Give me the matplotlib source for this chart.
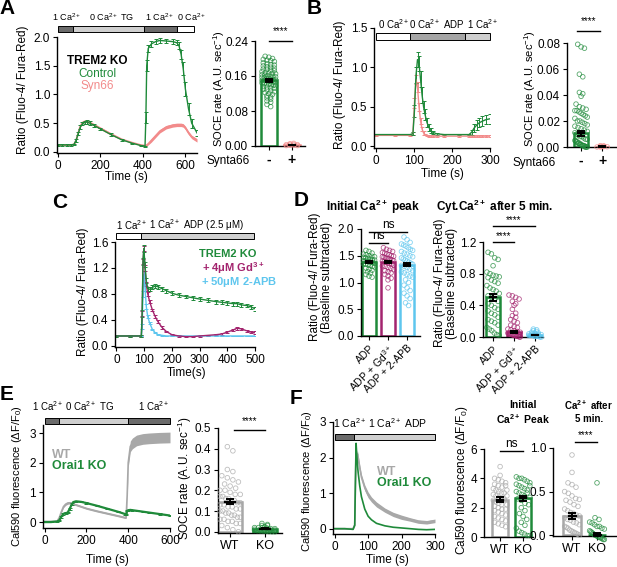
import numpy as np
import matplotlib
matplotlib.use('Agg')
import matplotlib.pyplot as plt
from matplotlib.patches import Rectangle
from matplotlib.ticker import FormatStrFormatter

# ---------------- data ----------------
# A: TREM2 KO, TG protocol
a_t = [0, 20, 40, 60, 75, 85, 95, 105, 115, 125, 135, 150, 170, 200, 250, 300, 350, 390, 410, 414,
       418, 425, 440, 460, 480, 510, 540, 560, 570, 580, 590, 600, 615, 630, 655]
a_ctrl = [0.12, 0.12, 0.12, 0.12, 0.13, 0.20, 0.32, 0.43, 0.49, 0.51, 0.52, 0.50, 0.46, 0.40, 0.30,
          0.21, 0.15, 0.11, 0.10, 0.60, 1.50, 1.80, 1.88, 1.92, 1.94, 1.93, 1.92, 1.90, 1.85, 1.70,
          1.45, 1.10, 0.75, 0.50, 0.33]
a_ctrl_err = [0.01, 0.01, 0.01, 0.01, 0.01, 0.02, 0.03, 0.03, 0.03, 0.03, 0.03, 0.03, 0.02, 0.02, 0.02,
              0.02, 0.01, 0.01, 0.01, 0.10, 0.10, 0.06, 0.05, 0.04, 0.04, 0.04, 0.04, 0.04, 0.06, 0.08,
              0.12, 0.12, 0.10, 0.08, 0.05]
a_syn = [0.12, 0.12, 0.12, 0.12, 0.13, 0.20, 0.33, 0.45, 0.51, 0.53, 0.53, 0.51, 0.47, 0.41, 0.31,
         0.22, 0.16, 0.12, 0.11, 0.11, 0.12, 0.14, 0.20, 0.28, 0.36, 0.43, 0.46, 0.47, 0.47, 0.47,
         0.46, 0.42, 0.33, 0.26, 0.20]
a_syn_err = [0.01, 0.01, 0.01, 0.01, 0.01, 0.02, 0.02, 0.02, 0.02, 0.02, 0.02, 0.02, 0.02, 0.02, 0.02,
             0.01, 0.01, 0.01, 0.01, 0.01, 0.02, 0.02, 0.03, 0.03, 0.03, 0.03, 0.03, 0.03, 0.03, 0.03,
             0.03, 0.03, 0.03, 0.03, 0.03]
a_prot = [0, 71, 403, 561, 640]
a_prot_lbl = ['1 Ca$^{2+}$', '0 Ca$^{2+}$ TG', '1 Ca$^{2+}$', '0 Ca$^{2+}$']
a_prot_lbl_t = [42, 255, 481, 631]

a_soce_ctrl = [0.205, 0.203, 0.2, 0.198, 0.196, 0.195, 0.193, 0.19, 0.188, 0.186, 0.185, 0.183, 0.181,
               0.18, 0.178, 0.176, 0.175, 0.173, 0.172, 0.17, 0.168, 0.167, 0.166, 0.165, 0.163, 0.162,
               0.161, 0.16, 0.159, 0.158, 0.157, 0.156, 0.155, 0.154, 0.153, 0.152, 0.151, 0.15, 0.15,
               0.149, 0.148, 0.147, 0.146, 0.145, 0.144, 0.143, 0.142, 0.141, 0.14, 0.139, 0.138, 0.136,
               0.135, 0.133, 0.132, 0.13, 0.128, 0.126, 0.124, 0.122, 0.12, 0.118, 0.115, 0.112, 0.11,
               0.107, 0.103, 0.1, 0.095, 0.09]
a_soce_syn = [0.001, 0.002, 0.003, 0.004, 0.005, 0.006, 0.002, 0.004, 0.003, 0.001]
a_soce_mean = [0.15, 0.002]
a_soce_sem = [0.003, 0.0008]

# B: ADP in 0 Ca
b_t = [0, 50, 90, 98, 102, 106, 110, 114, 118, 122, 126, 130, 135, 140, 145, 150, 160, 180, 220, 245,
       252, 258, 265, 272, 280, 290, 300]
b_ctrl = [0.15, 0.15, 0.15, 0.16, 0.45, 0.90, 1.10, 1.05, 0.85, 0.65, 0.50, 0.40, 0.30, 0.24, 0.20,
          0.18, 0.16, 0.15, 0.15, 0.15, 0.18, 0.23, 0.27, 0.30, 0.32, 0.34, 0.35]
b_ctrl_err = [0.01, 0.01, 0.01, 0.02, 0.08, 0.10, 0.10, 0.10, 0.10, 0.10, 0.08, 0.07, 0.06, 0.05, 0.03,
              0.02, 0.01, 0.01, 0.01, 0.01, 0.03, 0.05, 0.06, 0.06, 0.06, 0.06, 0.06]
b_syn = [0.14, 0.14, 0.14, 0.16, 0.55, 0.85, 0.75, 0.50, 0.32, 0.22, 0.17, 0.15, 0.14, 0.13, 0.13,
         0.13, 0.13, 0.13, 0.13, 0.13, 0.13, 0.13, 0.13, 0.13, 0.13, 0.13, 0.13]
b_syn_err = [0.005, 0.005, 0.005, 0.02, 0.06, 0.06, 0.06, 0.05, 0.04, 0.03, 0.02, 0.01, 0.01, 0.01, 0.01,
             0.01, 0.01, 0.01, 0.01, 0.01, 0.01, 0.01, 0.01, 0.01, 0.01, 0.01, 0.01]
b_prot = [0, 90, 235, 300]
b_prot_lbl = ['0 Ca$^{2+}$', '0 Ca$^{2+}$ ADP', '1 Ca$^{2+}$']
b_prot_lbl_t = [47, 161, 282]

b_soce_ctrl = [0.079, 0.077, 0.076, 0.056, 0.054, 0.042, 0.041, 0.039, 0.033, 0.031, 0.03, 0.029, 0.028,
               0.028, 0.027, 0.026, 0.025, 0.024, 0.023, 0.022, 0.02, 0.02, 0.019, 0.018, 0.017, 0.016,
               0.015, 0.014, 0.013, 0.012, 0.011, 0.01, 0.009, 0.008, 0.008, 0.007, 0.006, 0.006, 0.005,
               0.005, 0.004, 0.004, 0.003, 0.003, 0.003, 0.002, 0.002, 0.002, 0.001, 0.001, 0.001, 0.001,
               0.0, 0.0, 0.0, 0.0]
b_soce_syn = [0.0, 0.0005, 0.001, 0.0, 0.0003, 0.0008, 0.0002, 0.0006]
b_soce_mean = [0.0105, 0.0003]
b_soce_sem = [0.0018, 0.0001]

# C: ADP in 1 Ca, inhibitors
c_t = [0, 50, 90, 93, 96, 99, 103, 108, 113, 120, 130, 140, 150, 165, 180, 200, 225, 250, 275, 300,
       330, 360, 380, 400, 420, 435, 450, 470, 485, 500]
c_trem = [0.15, 0.15, 0.15, 0.50, 1.30, 1.50, 1.25, 1.00, 0.88, 0.87, 0.90, 0.92, 0.91, 0.88, 0.85,
          0.81, 0.78, 0.76, 0.74, 0.72, 0.70, 0.68, 0.67, 0.66, 0.65, 0.65, 0.63, 0.62, 0.60, 0.57]
c_trem_err = [0.01, 0.01, 0.01, 0.05, 0.05, 0.05, 0.04, 0.04, 0.03, 0.03, 0.03, 0.03, 0.03, 0.03, 0.03,
              0.03, 0.03, 0.03, 0.03, 0.03, 0.03, 0.03, 0.03, 0.03, 0.03, 0.03, 0.03, 0.03, 0.03, 0.03]
c_gd = [0.15, 0.15, 0.15, 0.50, 1.30, 1.50, 1.20, 0.95, 0.80, 0.68, 0.55, 0.45, 0.37, 0.28, 0.22,
        0.17, 0.15, 0.14, 0.14, 0.15, 0.16, 0.17, 0.18, 0.21, 0.24, 0.27, 0.26, 0.23, 0.21, 0.20]
c_gd_err = [0.01, 0.01, 0.01, 0.04, 0.04, 0.04, 0.04, 0.03, 0.03, 0.02, 0.02, 0.02, 0.02, 0.02, 0.01,
            0.01, 0.01, 0.01, 0.01, 0.01, 0.01, 0.01, 0.02, 0.02, 0.02, 0.02, 0.02, 0.02, 0.02, 0.02]
c_apb = [0.15, 0.15, 0.15, 0.30, 0.80, 1.10, 0.90, 0.60, 0.45, 0.35, 0.25, 0.20, 0.17, 0.16, 0.15,
         0.15, 0.15, 0.15, 0.15, 0.15, 0.15, 0.15, 0.15, 0.15, 0.15, 0.15, 0.15, 0.15, 0.15, 0.15]
c_apb_err = [0.005, 0.005, 0.005, 0.04, 0.05, 0.05, 0.05, 0.04, 0.03, 0.02, 0.01, 0.01, 0.005, 0.005, 0.005,
             0.005, 0.005, 0.005, 0.005, 0.005, 0.005, 0.005, 0.005, 0.005, 0.005, 0.005, 0.005, 0.005,
             0.005, 0.005]
c_prot = [0, 90, 495]
c_prot_lbl = ['1 Ca$^{2+}$', '1 Ca$^{2+}$ ADP (2.5 $\\mu$M)']
c_prot_lbl_t = [54, 289]

# D: quantification
d_cats = ['ADP', 'ADP + Gd$^{3+}$', 'ADP + 2-APB']
d_peak_adp = [1.6, 1.58, 1.55, 1.53, 1.52, 1.5, 1.49, 1.48, 1.47, 1.46, 1.45, 1.44, 1.43, 1.42, 1.41, 1.4,
              1.4, 1.39, 1.38, 1.37, 1.36, 1.35, 1.34, 1.33, 1.32, 1.3, 1.29, 1.27, 1.25, 1.23, 1.2, 1.18,
              1.15, 1.12, 1.1]
d_peak_gd = [1.65, 1.62, 1.6, 1.58, 1.56, 1.55, 1.53, 1.52, 1.5, 1.49, 1.48, 1.47, 1.46, 1.45, 1.44, 1.43,
             1.42, 1.41, 1.4, 1.39, 1.38, 1.37, 1.36, 1.35, 1.33, 1.31, 1.3, 1.28, 1.26, 1.24, 1.22, 1.2,
             1.18, 1.15, 1.12, 1.08, 1.05, 0.9]
d_peak_apb = [1.85, 1.8, 1.75, 1.72, 1.7, 1.68, 1.65, 1.62, 1.6, 1.58, 1.55, 1.53, 1.5, 1.48, 1.46, 1.44,
              1.42, 1.4, 1.38, 1.36, 1.34, 1.32, 1.3, 1.28, 1.25, 1.22, 1.2, 1.18, 1.15, 1.12, 1.1, 1.05,
              1.0, 0.95, 0.9, 0.85, 0.8, 0.75, 0.7, 0.62, 0.57]
d_peak_mean = [1.38, 1.39, 1.33]
d_peak_sem = [0.02, 0.02, 0.03]
d_late_adp = [1.07, 1.05, 1.0, 0.98, 0.9, 0.82, 0.8, 0.78, 0.77, 0.76, 0.75, 0.72, 0.7, 0.68, 0.65, 0.62,
              0.6, 0.58, 0.55, 0.52, 0.5, 0.48, 0.45, 0.42, 0.4, 0.37, 0.35, 0.33, 0.3, 0.28, 0.25, 0.22,
              0.2, 0.18, 0.15, 0.12, 0.1, 0.08, 0.05, 0.03, 0.02]
d_late_gd = [0.53, 0.52, 0.5, 0.48, 0.45, 0.42, 0.4, 0.35, 0.3, 0.27, 0.25, 0.22, 0.2, 0.18, 0.15, 0.13,
             0.12, 0.1, 0.09, 0.08, 0.07, 0.06, 0.05, 0.05, 0.04, 0.04, 0.03, 0.03, 0.02, 0.02, 0.02, 0.01,
             0.01, 0.01, 0.0, 0.0]
d_late_apb = [0.1, 0.09, 0.08, 0.07, 0.06, 0.05, 0.05, 0.04, 0.04, 0.03, 0.03, 0.03, 0.02, 0.02, 0.02,
              0.02, 0.01, 0.01, 0.01, 0.01, 0.0, 0.0]
d_late_mean = [0.50, 0.06, 0.025]
d_late_sem = [0.04, 0.015, 0.005]

# E: Orai1 KO, TG protocol
e_t = [0, 30, 60, 70, 80, 90, 100, 110, 120, 130, 140, 150, 175, 200, 250, 300, 350, 385, 390, 395,
       400, 410, 420, 440, 470, 500, 550, 600]
e_wt = [0.02, 0.02, 0.03, 0.15, 0.35, 0.52, 0.60, 0.64, 0.65, 0.63, 0.60, 0.58, 0.52, 0.46, 0.37,
        0.29, 0.21, 0.15, 0.15, 0.90, 2.00, 2.55, 2.65, 2.75, 2.80, 2.82, 2.84, 2.85]
e_wt_err = [0.02, 0.02, 0.02, 0.03, 0.04, 0.04, 0.04, 0.04, 0.04, 0.04, 0.03, 0.03, 0.03, 0.03, 0.03,
            0.03, 0.03, 0.03, 0.03, 0.10, 0.15, 0.18, 0.18, 0.18, 0.18, 0.18, 0.18, 0.18]
e_ko = [0.00, 0.00, 0.02, 0.06, 0.18, 0.28, 0.30, 0.32, 0.45, 0.60, 0.68, 0.70, 0.68, 0.64, 0.55,
        0.45, 0.35, 0.27, 0.25, 0.38, 0.40, 0.41, 0.40, 0.38, 0.35, 0.32, 0.27, 0.22]
e_ko_err = [0.01, 0.01, 0.01, 0.02, 0.03, 0.03, 0.03, 0.03, 0.03, 0.03, 0.02, 0.02, 0.02, 0.02, 0.02,
            0.02, 0.02, 0.02, 0.02, 0.02, 0.02, 0.02, 0.02, 0.02, 0.02, 0.02, 0.02, 0.02]
e_prot = [0, 70, 400, 600]
e_prot_lbl = ['1 Ca$^{2+}$', '0 Ca$^{2+}$ TG', '1 Ca$^{2+}$']
e_prot_lbl_t = [14, 216, 520]
e_soce_wt = [0.41, 0.39, 0.3, 0.29, 0.27, 0.26, 0.25, 0.24, 0.23, 0.22, 0.21, 0.2, 0.2, 0.19, 0.18, 0.18,
             0.17, 0.17, 0.16, 0.16, 0.15, 0.15, 0.14, 0.14, 0.13, 0.13, 0.12, 0.12, 0.11, 0.11, 0.1, 0.1,
             0.09, 0.09, 0.08, 0.08, 0.07, 0.07, 0.06, 0.06, 0.05, 0.05, 0.04, 0.04, 0.03, 0.02, 0.01, 0.0]
e_soce_ko = [0.04, 0.035, 0.03, 0.03, 0.025, 0.02, 0.02, 0.02, 0.018, 0.015, 0.015, 0.012, 0.01, 0.01,
             0.01, 0.008, 0.006, 0.005, 0.004, 0.003, 0.002, 0.001, 0.0, 0.0]
e_soce_mean = [0.145, 0.014]
e_soce_sem = [0.012, 0.002]

# F: Orai1 KO, ADP
f_t = [0, 30, 55, 60, 62, 64, 66, 68, 70, 75, 80, 90, 100, 110, 125, 150, 175, 200, 225, 250, 275, 300]
f_wt = [0.0, 0.0, 0.0, 0.10, 1.20, 2.20, 2.00, 2.10, 2.00, 1.70, 1.45, 1.15, 0.95, 0.82, 0.68,
        0.52, 0.40, 0.32, 0.26, 0.20, 0.18, 0.22]
f_wt_err = [0.02, 0.02, 0.02, 0.03, 0.10, 0.10, 0.10, 0.10, 0.10, 0.10, 0.08, 0.08, 0.08, 0.07, 0.07,
            0.06, 0.06, 0.06, 0.05, 0.05, 0.05, 0.05]
f_ko = [0.0, 0.0, -0.02, 0.10, 1.30, 2.40, 2.10, 1.80, 1.60, 1.20, 0.90, 0.55, 0.35, 0.25, 0.15,
        0.08, 0.04, 0.02, 0.0, -0.02, -0.03, -0.02]
f_prot = [0, 58, 300]
f_prot_lbl = ['1 Ca$^{2+}$', '1 Ca$^{2+}$ ADP']
f_prot_lbl_t = [44, 189]
f_peak_wt = [4.8, 4.2, 4.0, 3.9, 3.8, 3.7, 3.6, 3.5, 3.4, 3.3, 3.2, 3.1, 3.0, 2.9, 2.8, 2.7, 2.6, 2.5,
             2.4, 2.3, 2.2, 2.1, 2.0, 1.9, 1.8, 1.7, 1.6, 1.5, 1.4, 1.3, 1.2, 1.1, 1.0, 0.9, 0.8, 0.7,
             2.5, 2.6, 2.8, 3.0, 3.2, 3.5, 2.2, 1.9]
f_peak_ko = [4.1, 4.0, 4.0, 3.9, 3.8, 3.7, 3.6, 3.5, 3.4, 3.3, 3.2, 3.1, 3.0, 2.9, 2.8, 2.6, 2.5, 2.3,
             2.2, 2.0, 1.8, 1.6, 1.4, 1.2, 1.0, 0.8, 0.6, 0.4, 0.3, 0.2, 0.1, 0.1, 3.5, 3.0, 2.7]
f_peak_mean = [2.55, 2.65]
f_peak_sem = [0.15, 0.17]
f_late_wt = [0.92, 0.72, 0.6, 0.58, 0.55, 0.5, 0.48, 0.45, 0.42, 0.41, 0.4, 0.38, 0.35, 0.33, 0.3, 0.28,
             0.26, 0.25, 0.23, 0.22, 0.2, 0.18, 0.17, 0.15, 0.14, 0.12, 0.1, 0.09, 0.08, 0.06, 0.05,
             0.04, 0.03, 0.02, 0.01, 0.0]
f_late_ko = [0.6, 0.2, 0.18, 0.15, 0.14, 0.12, 0.1, 0.1, 0.08, 0.07, 0.05, 0.04, 0.03, 0.02, 0.01, 0.0,
             0.0, -0.01, -0.02, -0.02, -0.03, -0.03, -0.04, -0.05, -0.05]
f_late_mean = [0.22, 0.0]
f_late_sem = [0.03, 0.025]

GREEN = '#1f8a3a'
PINK = '#f28b8b'
PURPLE = '#a3246e'
CYAN = '#5ec6ee'
GRAY = '#a8a8a8'
DARK = '#6b6b6b'
LIGHT = '#cfcfcf'

# ---------------- figure ----------------
W, H = 617, 567
plt.rcParams['font.family'] = ['Liberation Sans', 'DejaVu Sans']
plt.rcParams['mathtext.default'] = 'regular'
plt.rcParams['font.size'] = 8.5
plt.rcParams['axes.linewidth'] = 1.0
plt.rcParams['xtick.major.size'] = 3
plt.rcParams['ytick.major.size'] = 3
plt.rcParams['xtick.labelsize'] = 8.5
plt.rcParams['ytick.labelsize'] = 8.5
plt.rcParams['xtick.major.pad'] = 2
plt.rcParams['ytick.major.pad'] = 2

fig = plt.figure(figsize=(W / 100, H / 100), dpi=100)


def box(l, t, r, b):
    ax = fig.add_axes([l / W, 1 - b / H, (r - l) / W, (b - t) / H])
    ax.spines[['top', 'right']].set_visible(False)
    return ax


def ftext(x, y, s, **kw):
    kw.setdefault('ha', 'center')
    kw.setdefault('va', 'center')
    fig.text(x / W, 1 - y / H, s, **kw)


def protocol(ax, edges, colors, y0, y1):
    for x0, x1, c in zip(edges[:-1], edges[1:], colors):
        ax.add_patch(Rectangle((x0, y0), x1 - x0, y1 - y0, facecolor=c, edgecolor='k',
                               lw=0.7, clip_on=False, zorder=5))


def swarm(vals, center, half):
    vals = np.asarray(vals, float)
    nb = max(3, len(vals) // 4)
    lo, hi = vals.min(), vals.max() + 1e-9
    idx = np.minimum(((vals - lo) / (hi - lo + 1e-12) * nb).astype(int), nb - 1)
    xs = np.full(len(vals), float(center))
    for b in range(nb):
        sel = np.where(idx == b)[0]
        n = len(sel)
        if n > 1:
            step = min(2 * half / (n - 1), 0.16)
            xs[sel] = center + (np.arange(n) - (n - 1) / 2) * step
    return xs


def dotbar(ax, groups, means, sems, colors, width=0.7):
    for i, (vals, m, s, c) in enumerate(zip(groups, means, sems, colors)):
        ax.bar(i, m, width=width, facecolor='none', edgecolor=c, lw=1.8, zorder=2)
        ax.scatter(swarm(vals, i, width * 0.42), vals, s=11, facecolors='none', edgecolors=c,
                   lw=0.6, alpha=0.75, zorder=3, clip_on=False)
        ax.errorbar(i, m, yerr=s, color='k', capsize=3, lw=1.4, capthick=1.4, zorder=4)
        ax.plot([i - 0.14, i + 0.14], [m, m], color='k', lw=1.6, zorder=4)
    ax.set_xticks(range(len(groups)))


def sig(ax, x0, x1, y, s, dy, fs=7):
    ax.plot([x0, x1], [y, y], color='k', lw=1, clip_on=False)
    ax.text((x0 + x1) / 2, y + dy, s, ha='center', va='bottom', fontsize=fs, clip_on=False)


def trace_err(ax, t, y, e, c, lw=1.0):
    ax.errorbar(t, y, yerr=e, color=c, lw=lw, elinewidth=0.7, capsize=1.5, capthick=0.7)


def trace_band(ax, t, y, e, c, lw=1.0, alpha=1.0):
    y = np.asarray(y)
    e = np.asarray(e)
    ax.fill_between(t, y - e, y + e, color=c, alpha=alpha, lw=0)
    ax.plot(t, y, color=c, lw=lw)


# ---- A ----
ax = box(57, 37, 197, 153)
trace_band(ax, a_t, a_syn, a_syn_err, PINK, lw=1.2)
trace_err(ax, a_t, a_ctrl, a_ctrl_err, GREEN)
ax.set_xlim(-5, 655)
ax.set_ylim(-0.02, 2.0)
ax.set_xticks([0, 200, 400, 600])
ax.set_yticks([0, 0.5, 1.0, 1.5, 2.0])
ax.yaxis.set_major_formatter(FormatStrFormatter('%.1f'))
protocol(ax, a_prot, [DARK, LIGHT, DARK, 'white'], 2.09, 2.19)
for x, s in zip(a_prot_lbl_t, a_prot_lbl):
    ax.text(x, 2.35, s, ha='center', va='center', fontsize=6.5, clip_on=False)
ftext(97, 61, 'TREM2 KO', fontweight='bold', fontsize=8.5)
ftext(97, 74, 'Control', color=GREEN, fontsize=8.5)
ftext(97, 86, 'Syn66', color=PINK, fontsize=8.5)
ftext(23, 90, 'Ratio (Fluo-4/ Fura-Red)', rotation=90)
ftext(126, 177, 'Time (s)')

ax = box(255, 41, 305, 146)
dotbar(ax, [a_soce_ctrl, a_soce_syn], a_soce_mean, a_soce_sem, [GREEN, PINK])
ax.set_xlim(-0.6, 1.57)
ax.set_ylim(0, 0.24)
ax.set_yticks([0, 0.08, 0.16, 0.24])
ax.yaxis.set_major_formatter(FormatStrFormatter('%.2f'))
ax.set_xticklabels(['-', '+'], fontsize=10, fontweight='bold')
sig(ax, 0, 1, 0.24, '****', 0.012)
ftext(228, 161, 'Synta66')
ftext(219, 89, 'SOCE rate (A.U. sec$^{-1}$)', rotation=90, fontsize=8)

# ---- B ----
ax = box(374, 28, 490, 148)
trace_err(ax, b_t, b_syn, b_syn_err, PINK)
trace_err(ax, b_t, b_ctrl, b_ctrl_err, GREEN)
ax.set_xlim(-4, 300)
ax.set_ylim(-0.02, 1.5)
ax.set_xticks([0, 100, 200, 300])
ax.set_yticks([0, 0.5, 1.0, 1.5])
ax.yaxis.set_major_formatter(FormatStrFormatter('%.1f'))
protocol(ax, b_prot, ['white', '#a5a5a5', LIGHT], 1.35, 1.44)
for x, s in zip(b_prot_lbl_t, b_prot_lbl):
    ax.text(x, 1.55, s, ha='center', va='center', fontsize=7, clip_on=False)
ftext(340, 85, 'Ratio (Fluo-4/ Fura-Red)', rotation=90)
ftext(442, 174, 'Time (s)')

ax = box(567, 43, 617, 147)
dotbar(ax, [b_soce_ctrl, b_soce_syn], b_soce_mean, b_soce_sem, [GREEN, PINK])
ax.set_xlim(-0.67, 1.71)
ax.set_ylim(0, 0.08)
ax.set_yticks([0, 0.02, 0.04, 0.06, 0.08])
ax.yaxis.set_major_formatter(FormatStrFormatter('%.2f'))
ax.set_xticklabels(['-', '+'], fontsize=10, fontweight='bold')
sig(ax, -0.2, 0.9, 0.089, '****', 0.004)
ftext(534, 163, 'Synta66')
ftext(530, 89, 'SOCE rate (A.U. sec$^{-1}$)', rotation=90, fontsize=8)

# ---- C ----
ax = box(115, 242, 255, 347)
trace_err(ax, c_t, c_apb, c_apb_err, CYAN)
trace_err(ax, c_t, c_gd, c_gd_err, PURPLE)
trace_err(ax, c_t, c_trem, c_trem_err, GREEN)
ax.set_xlim(-5, 500)
ax.set_ylim(-0.02, 1.6)
ax.set_xticks([0, 100, 200, 300, 400, 500])
ax.set_yticks([0, 0.4, 0.8, 1.2, 1.6])
ax.yaxis.set_major_formatter(FormatStrFormatter('%.1f'))
protocol(ax, c_prot, ['white', LIGHT], 1.65, 1.74)
for x, s in zip(c_prot_lbl_t, c_prot_lbl):
    ax.text(x, 1.86, s, ha='center', va='center', fontsize=7, clip_on=False)
ftext(228, 254, 'TREM2 KO', color=GREEN, fontweight='bold', fontsize=8)
ftext(233, 268, '+ 4$\\mu$M Gd$^{3+}$', color=PURPLE, fontweight='bold', fontsize=8)
ftext(239, 282, '+ 50$\\mu$M 2-APB', color=CYAN, fontweight='bold', fontsize=8)
ftext(83, 292, 'Ratio (Fluo-4/ Fura-Red)', rotation=90)
ftext(187, 373, 'Time(s)')

# ---- D ----
ax = box(361, 229, 420, 336)
dotbar(ax, [d_peak_adp, d_peak_gd, d_peak_apb], d_peak_mean, d_peak_sem, [GREEN, PURPLE, CYAN])
ax.set_xlim(-0.42, 2.68)
ax.set_ylim(0, 2.0)
ax.set_yticks([0, 0.5, 1.0, 1.5, 2.0])
ax.yaxis.set_major_formatter(FormatStrFormatter('%.1f'))
ax.set_xticklabels(d_cats, rotation=45, ha='right', rotation_mode='anchor', fontsize=7.5)
sig(ax, 0, 2, 1.94, 'ns', 0.02, fs=8.5)
sig(ax, 0, 1, 1.74, 'ns', 0.02, fs=8.5)
ftext(373, 207, 'Initial Ca$^{2+}$ peak', fontweight='bold')
ftext(321, 277, 'Ratio (Fluo-4/ Fura-Red)\n(Baseline subtracted)', rotation=90, linespacing=1.1)

ax = box(483, 242, 543, 337)
dotbar(ax, [d_late_adp, d_late_gd, d_late_apb], d_late_mean, d_late_sem, [GREEN, PURPLE, CYAN])
ax.set_xlim(-0.48, 2.38)
ax.set_ylim(0, 1.2)
ax.set_yticks([0, 0.4, 0.8, 1.2])
ax.yaxis.set_major_formatter(FormatStrFormatter('%.1f'))
ax.set_xticklabels(d_cats, rotation=45, ha='right', rotation_mode='anchor', fontsize=7.5)
sig(ax, 0, 2, 1.40, '****', 0.01)
sig(ax, 0, 1, 1.20, '****', 0.01)
ftext(495, 207, 'Cyt.Ca$^{2+}$ after 5 min.', fontweight='bold')
ftext(446, 283, 'Ratio (Fluo-4/ Fura-Red)\n(Baseline subtracted)', rotation=90, linespacing=1.1)

# ---- E ----
ax = box(43, 425, 170, 528)
trace_band(ax, e_t, e_wt, e_wt_err, GRAY, lw=1.2)
trace_err(ax, e_t, e_ko, e_ko_err, GREEN, lw=1.6)
ax.set_xlim(-8, 600)
ax.set_ylim(-0.2, 3.27)
ax.set_xticks([0, 200, 400, 600])
ax.set_yticks([0, 1, 2, 3])
protocol(ax, e_prot, [DARK, LIGHT, DARK], 3.3, 3.5)
for x, s in zip(e_prot_lbl_t, e_prot_lbl):
    ax.text(x, 3.92, s, ha='center', va='center', fontsize=7, clip_on=False)
ftext(52, 455, 'WT', color=GRAY, fontweight='bold', ha='left', fontsize=9)
ftext(52, 466, 'Orai1 KO', color=GREEN, fontweight='bold', ha='left', fontsize=9)
ftext(17, 476, 'Cal590 fluorescence ($\\Delta$F/F$_0$)', rotation=90, fontsize=8)
ftext(107, 560, 'Time (s)')

ax = box(218, 428, 282, 533)
dotbar(ax, [e_soce_wt, e_soce_ko], e_soce_mean, e_soce_sem, [GRAY, GREEN])
ax.set_xlim(-0.35, 1.5)
ax.set_ylim(-0.006, 0.5)
ax.set_yticks([0, 0.1, 0.2, 0.3, 0.4, 0.5])
ax.yaxis.set_major_formatter(FormatStrFormatter('%.1f'))
ax.set_xticklabels(['WT', 'KO'], fontsize=9)
sig(ax, 0.1, 1.0, 0.49, '****', 0.02)
ftext(185, 478, 'SOCE rate (A.U. sec$^{-1}$)', rotation=90)

# ---- F ----
ax = box(333, 422, 435, 534)
trace_band(ax, f_t, f_wt, f_wt_err, GRAY, lw=1.2)
ax.plot(f_t, f_ko, color=GREEN, lw=1.2)
ax.set_xlim(-5, 300)
ax.set_ylim(-0.15, 3.0)
ax.set_xticks([0, 100, 200, 300])
ax.set_yticks([0, 1, 2, 3])
protocol(ax, f_prot, [DARK, LIGHT], 2.5, 2.66)
for x, s in zip(f_prot_lbl_t, f_prot_lbl):
    ax.text(x, 2.97, s, ha='center', va='center', fontsize=7.5, clip_on=False)
ftext(377, 472, 'WT', color=GRAY, fontweight='bold', ha='left', fontsize=9)
ftext(377, 483, 'Orai1 KO', color=GREEN, fontweight='bold', ha='left', fontsize=9)
ftext(307, 481, 'Cal590 fluorescence ($\\Delta$F/F$_0$)', rotation=90, fontsize=8)
ftext(387, 560, 'Time (s)')

ax = box(484, 449, 533, 537)
dotbar(ax, [f_peak_wt, f_peak_ko], f_peak_mean, f_peak_sem, [GRAY, GREEN])
ax.set_xlim(-0.7, 1.43)
ax.set_ylim(0, 6)
ax.set_yticks([0, 2, 4, 6])
ax.set_xticklabels(['WT', 'KO'], fontsize=9)
sig(ax, 0, 1, 5.86, 'ns', 0.1, fs=8.5)
ftext(523, 413, 'Initial\nCa$^{2+}$ Peak', fontweight='bold', fontsize=7.5)
ftext(462, 480, 'Cal590 fluorescence ($\\Delta$F/F$_0$)', rotation=90)

ax = box(553, 448, 617, 536)
dotbar(ax, [f_late_wt, f_late_ko], f_late_mean, f_late_sem, [GRAY, GREEN])
ax.set_xlim(-0.76, 1.8)
ax.set_ylim(-0.01, 1.0)
ax.set_yticks([0, 0.5, 1.0])
ax.yaxis.set_major_formatter(FormatStrFormatter('%.1f'))
ax.set_xticklabels(['WT', 'KO'], fontsize=9)
sig(ax, 0.1, 1.0, 1.07, '****', 0.02)
ftext(589, 411, 'Ca$^{2+}$ after\n5 min.', fontweight='bold', fontsize=7)

# panel letters
for x, y, s in [(7, 9, 'A'), (314, 9, 'B'), (60, 202, 'C'), (301, 201, 'D'), (7, 395, 'E'), (296, 398, 'F')]:
    ftext(x, y, s, fontsize=15, fontweight='bold')

fig.savefig('out.png', dpi=100)
